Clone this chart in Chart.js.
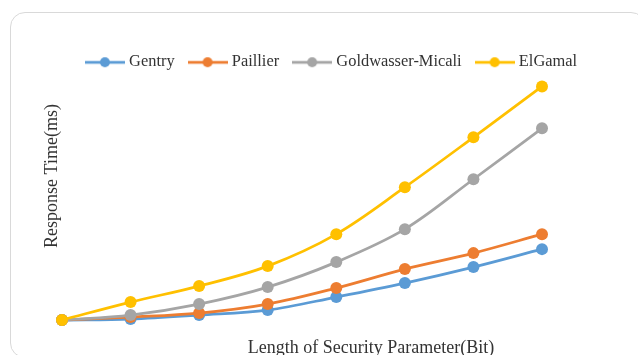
<!DOCTYPE html>
<html>
<head>
<meta charset="utf-8">
<title>Response Time vs. Security Parameter Length</title>
<script src="https://cdn.jsdelivr.net/npm/chart.js@4/dist/chart.umd.min.js"></script>
<style>
  html, body { margin: 0; padding: 0; background: #ffffff; overflow: hidden; }
  #wrap { position: relative; width: 638px; height: 355px; }
  #frame {
    position: absolute; left: 10px; top: 12px; width: 636px; height: 346px;
    border: 1px solid #d9d9d9; border-radius: 15px; box-sizing: border-box;
  }
  #c { position: absolute; left: 0; top: 0; }
</style>
</head>
<body>
<div id="wrap">
  <div id="frame"></div>
  <canvas id="c" width="638" height="355"></canvas>
</div>
<script>
// Security parameter steps (the axis carries no tick labels)
const categories = ['1', '2', '3', '4', '5', '6', '7', '8'];

// Response time (ms) per scheme
const gentry           = [5, 5.5, 7.5, 10, 16.5, 23.5, 31.5, 40.5];
const paillier         = [5, 6.5, 8.5, 13, 21, 30.5, 38.5, 48];
const goldwasserMicali = [5, 7.5, 13, 21.5, 34, 50.5, 75.5, 101];
const elGamal          = [5, 14, 22, 32, 48, 71.5, 96.5, 122];

const seriesNames = ['Gentry', 'Paillier', 'Goldwasser-Micali', 'ElGamal'];
const seriesValues = [gentry, paillier, goldwasserMicali, elGamal];

const xTitle = 'Length of Security Parameter(Bit)';
const yTitle = 'Response Time(ms)';

const palette = ['#5B9BD5', '#ED7D31', '#A5A5A5', '#FFC000'];
const textColor = '#333333';
const serif = '"Liberation Serif", "Times New Roman", serif';

// Legend marker: short line with a dot in the middle
function lineMarker(color) {
  const c = document.createElement('canvas');
  c.width = 40; c.height = 12;
  const g = c.getContext('2d');
  g.strokeStyle = color; g.lineWidth = 2.75;
  g.beginPath(); g.moveTo(0, 6); g.lineTo(40, 6); g.stroke();
  g.fillStyle = color;
  g.beginPath(); g.arc(20, 6, 5, 0, Math.PI * 2); g.fill();
  return c;
}
const markers = palette.map(lineMarker);

// Axis captions placed relative to the frame
const axisCaptions = {
  id: 'axisCaptions',
  afterDraw(chart) {
    const ctx = chart.ctx;
    ctx.save();
    ctx.fillStyle = textColor;
    ctx.font = '18px ' + serif;
    ctx.textAlign = 'center';
    ctx.textBaseline = 'alphabetic';
    ctx.fillText(xTitle, 371, 352.5);
    ctx.translate(57, 176);
    ctx.rotate(-Math.PI / 2);
    ctx.fillText(yTitle, 0, 0);
    ctx.restore();
  }
};

const datasets = seriesNames.map((name, i) => ({
  label: name,
  data: seriesValues[i],
  borderColor: palette[i],
  backgroundColor: palette[i],
  pointBackgroundColor: palette[i],
  pointBorderColor: palette[i],
  borderWidth: 2.75,
  pointRadius: 6,
  pointBorderWidth: 0,
  pointHoverRadius: 6,
  tension: 0.35,
  fill: false,
  clip: false,
  order: seriesNames.length - i
}));

new Chart(document.getElementById('c'), {
  type: 'line',
  data: { labels: categories, datasets },
  options: {
    responsive: false,
    animation: false,
    events: [],
    layout: { padding: { left: 28, right: 0, top: 37, bottom: 25 } },
    plugins: {
      tooltip: { enabled: false },
      legend: {
        position: 'top',
        align: 'center',
        labels: {
          usePointStyle: true,
          pointStyleWidth: 32,
          padding: 17,
          color: textColor,
          font: { family: serif, size: 16.4 },
          generateLabels(chart) {
            return chart.data.datasets.map((ds, i) => ({
              text: ds.label,
              pointStyle: markers[i],
              fillStyle: palette[i],
              strokeStyle: palette[i],
              lineWidth: 0,
              hidden: false,
              datasetIndex: i,
              fontColor: textColor
            }));
          }
        }
      }
    },
    scales: {
      x: { display: false },
      y: {
        min: 0, max: 125,
        display: true,
        ticks: { display: false },
        grid: { display: false },
        border: { display: false },
        afterFit(s) { s.width = 34; }
      },
      yRight: {
        type: 'linear', axis: 'y', position: 'right',
        display: true,
        ticks: { display: false },
        grid: { display: false },
        border: { display: false },
        afterFit(s) { s.width = 96; }
      }
    }
  },
  plugins: [axisCaptions]
});
</script>
</body>
</html>
